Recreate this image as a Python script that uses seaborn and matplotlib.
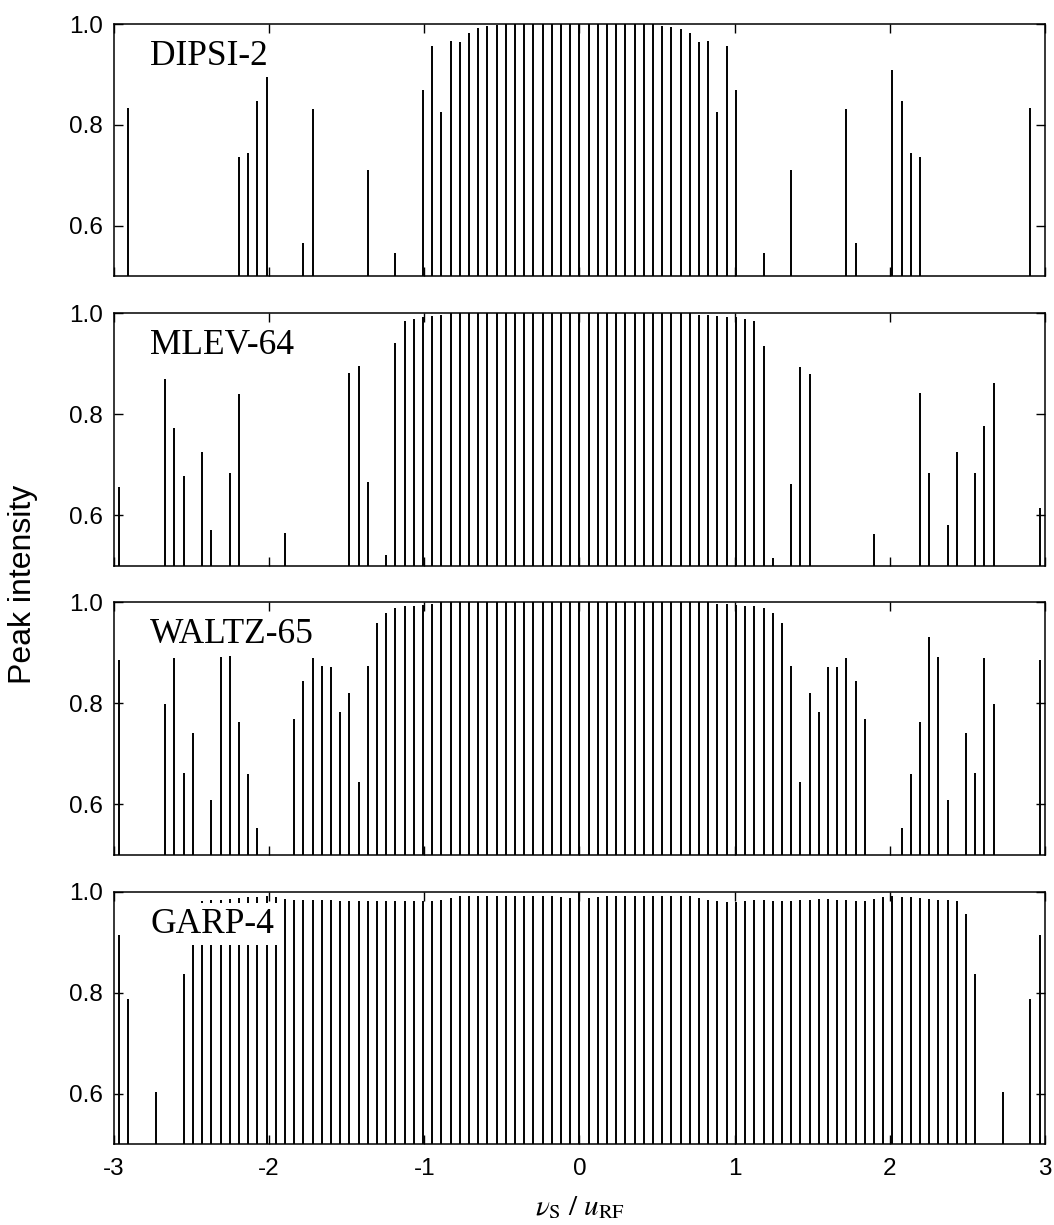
import numpy as np
import pandas as pd
import matplotlib
matplotlib.use("Agg")
import matplotlib.pyplot as plt
import seaborn as sns

# ---------------- data ----------------
# sideband spacing (in units of nu_S / u_RF) and sideband orders present
sideband_step = 0.0593

sequences = ["DIPSI-2", "MLEV-64", "WALTZ-65", "GARP-4"]

dipsi_orders = [-49, -37, -36, -35, -34, -30, -29, -23, -20] + list(range(-17, 18)) + \
               [20, 23, 29, 30, 34, 35, 36, 37, 49]
dipsi_heights = [0.833, 0.737, 0.744, 0.848, 0.901, 0.566, 0.831, 0.711, 0.547,
                 0.869, 0.956, 0.826, 0.966, 0.964, 0.982, 0.992, 0.996, 0.999,
                 1.0, 1.0, 1.0, 1.0, 1.0, 1.0, 1.0, 1.0, 1.0, 1.0, 1.0, 1.0, 1.0, 1.0, 1.0, 1.0, 1.0,
                 0.997, 0.995, 0.991, 0.982, 0.964, 0.966, 0.826, 0.956, 0.869,
                 0.547, 0.711, 0.831, 0.566, 0.909, 0.848, 0.744, 0.737, 0.833]

mlev_orders = [-50, -45, -44, -43, -41, -40, -38, -37, -32, -25, -24, -23, -21] + \
              list(range(-20, 21)) + [21, 23, 24, 25, 32, 37, 38, 40, 41, 43, 44, 45, 50]
mlev_heights = [0.655, 0.869, 0.772, 0.677, 0.726, 0.571, 0.683, 0.840, 0.564, 0.881, 0.896, 0.665, 0.521,
                0.942, 0.985, 0.989, 0.993, 0.995, 0.996,
                1.0, 1.0, 1.0, 1.0, 1.0, 1.0, 1.0, 1.0, 1.0, 1.0, 1.0, 1.0, 1.0, 1.0, 1.0, 1.0, 1.0, 1.0,
                1.0, 1.0, 1.0, 1.0, 1.0, 1.0, 1.0, 1.0, 1.0,
                0.997, 0.996, 0.995, 0.993, 0.993, 0.989, 0.984, 0.935,
                0.516, 0.661, 0.894, 0.880, 0.562, 0.841, 0.684, 0.581, 0.725, 0.684, 0.776, 0.861, 0.614]

waltz_orders = [-50, -45, -44, -43, -42, -40, -39, -38, -37, -36, -35] + list(range(-31, 32)) + \
               [35, 36, 37, 38, 39, 40, 42, 43, 44, 45, 50]
waltz_heights = [0.886, 0.798, 0.889, 0.662, 0.742, 0.608, 0.892, 0.903, 0.764, 0.660, 0.554,
                 0.769, 0.845, 0.889, 0.874, 0.872, 0.783, 0.821, 0.644, 0.875, 0.959, 0.979, 0.988,
                 0.992, 0.993, 0.995, 0.996,
                 1.0, 1.0, 1.0, 1.0, 1.0, 1.0, 1.0, 1.0, 1.0, 1.0, 1.0, 1.0, 1.0, 1.0, 1.0,
                 1.0, 1.0, 1.0, 1.0, 1.0, 1.0, 1.0, 1.0, 1.0, 1.0, 1.0, 1.0, 1.0, 1.0, 1.0,
                 0.997, 0.996, 0.995, 0.993, 0.992, 0.988, 0.979, 0.959, 0.874, 0.644, 0.821, 0.783,
                 0.872, 0.873, 0.889, 0.845, 0.769,
                 0.554, 0.660, 0.764, 0.931, 0.892, 0.608, 0.742, 0.662, 0.889, 0.798, 0.886]

garp_orders = [-50, -49, -46] + list(range(-43, 44)) + [46, 49, 50]
garp_heights = [0.914, 0.788, 0.603,
                0.837, 0.956, 0.981, 0.983, 0.983, 0.985, 0.988, 0.989, 0.989, 0.991,
                0.989, 0.985, 0.983, 0.983, 0.984, 0.983, 0.984, 0.982, 0.982, 0.981,
                0.981, 0.982, 0.982, 0.982, 0.982, 0.981, 0.981, 0.981, 0.984, 0.987,
                0.991, 0.992, 0.992, 0.992, 0.992, 0.992, 0.992, 0.992, 0.992, 0.992, 0.991,
                0.989, 0.987,
                1.0,
                0.987, 0.989, 0.991, 0.992, 0.992, 0.992, 0.992, 0.992, 0.992, 0.992, 0.992,
                0.991, 0.988, 0.984, 0.981, 0.980, 0.980, 0.981, 0.983, 0.983, 0.981, 0.981,
                0.981, 0.983, 0.984, 0.985, 0.985, 0.984, 0.983, 0.981, 0.981, 0.985, 0.989,
                0.991, 0.989, 0.989, 0.988, 0.985, 0.983, 0.983, 0.981, 0.956, 0.837,
                0.603, 0.788, 0.914]

x_ticks = [-3, -2, -1, 0, 1, 2, 3]
y_ticks = [0.6, 0.8, 1.0]
y_tick_labels = ["0.6", "0.8", "1.0"]

# ---------------- assemble long table ----------------
frames = []
for name, orders, heights in [("DIPSI-2", dipsi_orders, dipsi_heights),
                              ("MLEV-64", mlev_orders, mlev_heights),
                              ("WALTZ-65", waltz_orders, waltz_heights),
                              ("GARP-4", garp_orders, garp_heights)]:
    assert len(orders) == len(heights), name
    frames.append(pd.DataFrame({"sequence": name,
                                "offset": np.array(orders) * sideband_step,
                                "intensity": heights}))
df = pd.concat(frames, ignore_index=True)

# ---------------- style ----------------
sns.set_theme(style="ticks")
plt.rcParams["font.family"] = ["Liberation Sans", "DejaVu Sans"]
plt.rcParams["axes.unicode_minus"] = False
plt.rcParams["mathtext.fontset"] = "stix"
plt.rcParams["axes.linewidth"] = 1.1
plt.rcParams["axes.edgecolor"] = "black"
plt.rcParams["text.color"] = "black"
plt.rcParams["axes.labelcolor"] = "black"
plt.rcParams["xtick.color"] = "black"
plt.rcParams["ytick.color"] = "black"

g = sns.FacetGrid(df, row="sequence", row_order=sequences, sharex=True, sharey=True,
                  height=2.5, aspect=4, despine=False)


def stems(data, **kws):
    ax = plt.gca()
    ax.vlines(data["offset"], 0, data["intensity"], color="black", linewidth=1.4)


g.map_dataframe(stems)
g.set_titles("")
g.set_axis_labels("", "")

fig = g.figure
fig.set_size_inches(10.54, 12.25)
fig.subplots_adjust(left=0.108, right=0.9915, top=0.9804, bottom=0.0661, hspace=0.146)

for ax, name in zip(g.axes.flat, sequences):
    ax.set_xlim(-3, 3)
    ax.set_ylim(0.5, 1.0)
    ax.set_xticks(x_ticks)
    ax.set_yticks(y_ticks)
    ax.set_yticklabels(y_tick_labels)
    ax.tick_params(direction="in", top=True, right=True, length=6.5, width=1.0,
                   colors="black", labelcolor="black", labelsize=17.5)
    ax.tick_params(axis="y", pad=8)
    ax.tick_params(axis="x", pad=10)
    for s in ax.spines.values():
        s.set_color("black")
        s.set_linewidth(1.1)
    ax.set_facecolor("white")
    ax.text(0.039, 0.838, name, transform=ax.transAxes, fontsize=25.5, color="black",
            family="Liberation Serif", va="baseline", ha="left", zorder=5,
            bbox=dict(facecolor="white", edgecolor="none", pad=3))

g.axes.flat[-1].set_xticklabels([str(t) for t in x_ticks])

fig.text(0.022, 0.523, "Peak intensity", rotation=90, va="center", ha="center",
         fontsize=23, color="black")
fig.text(0.55, 0.003, r"$\nu_{\mathrm{S}}\ /\ u_{\mathrm{RF}}$", va="bottom", ha="center",
         fontsize=21, color="black")

fig.savefig("out.png", dpi=100, facecolor="white")
